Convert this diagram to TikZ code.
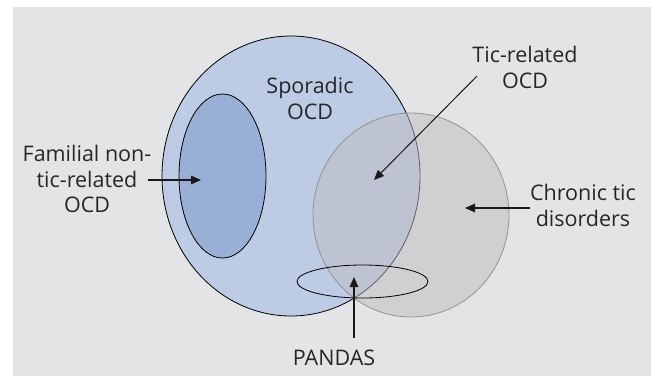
\documentclass[tikz,border=0pt]{standalone}
\usepackage{fontspec}
\setmainfont{Open Sans}
\usetikzlibrary{arrows.meta,shapes.geometric}

\definecolor{panelgray}{HTML}{E3E4E6}
\definecolor{sporblue}{HTML}{BECBE4}
\definecolor{famblue}{HTML}{9AAFD6}
\definecolor{ticgray}{HTML}{BEBDBF}

\begin{document}
\begin{tikzpicture}[x=1pt,y=-1pt]
\tikzset{
  setnode/.style={ellipse,draw=black,line width=0.8pt,inner sep=0pt},
  label/.style={align=center,font=\fontsize{21.5}{25.5}\selectfont,text=black!85,inner sep=1pt},
  pointer/.style={draw=black!90,line width=1.4pt,-{Triangle[length=10pt,width=8.5pt]}}
}
\useasboundingbox (0,0) rectangle (651,376);
\fill[panelgray] (12.7,6.7) rectangle (651,376);
% the sets
\node[setnode,fill=sporblue,minimum width=258pt,minimum height=280pt] (n_spor) at (291,176) {};
\node[setnode,fill=famblue,minimum width=87pt,minimum height=164pt] (n_fam) at (222.5,176) {};
\node[setnode,draw=black!45,fill=ticgray,fill opacity=0.5,draw opacity=0.9,minimum width=196pt,minimum height=204pt] (n_tic) at (411,215) {};
\node[setnode,minimum width=131pt,minimum height=33pt] (n_pandas) at (362.5,281.5) {};
% labels
\node[label] (l_spor) at (310,98.5) {Sporadic\\OCD};
\node[label] (l_ticocd) at (525,67.5) {Tic-related\\OCD};
\node[label] (l_fam) at (87,179) {Familial non-\\tic-related\\OCD};
\node[label] (l_chronic) at (583,205.5) {Chronic tic\\disorders};
\node[label] (l_pandas) at (334,358) {PANDAS};
% arrow ends
\coordinate (c_fam0) at (147.5,180);
\coordinate (c_fam1) at (201,180);
\coordinate (c_ticocd0) at (477,76);
\coordinate (c_ticocd1) at (374,180);
\coordinate (c_chronic0) at (530,208);
\coordinate (c_chronic1) at (465,208);
\coordinate (c_pandas0) at (354,338);
\coordinate (c_pandas1) at (354,277);
\draw[pointer] (c_fam0) -- (c_fam1);
\draw[pointer,line width=1pt] (c_ticocd0) -- (c_ticocd1);
\draw[pointer] (c_chronic0) -- (c_chronic1);
\draw[pointer] (c_pandas0) -- (c_pandas1);
\end{tikzpicture}
\end{document}
